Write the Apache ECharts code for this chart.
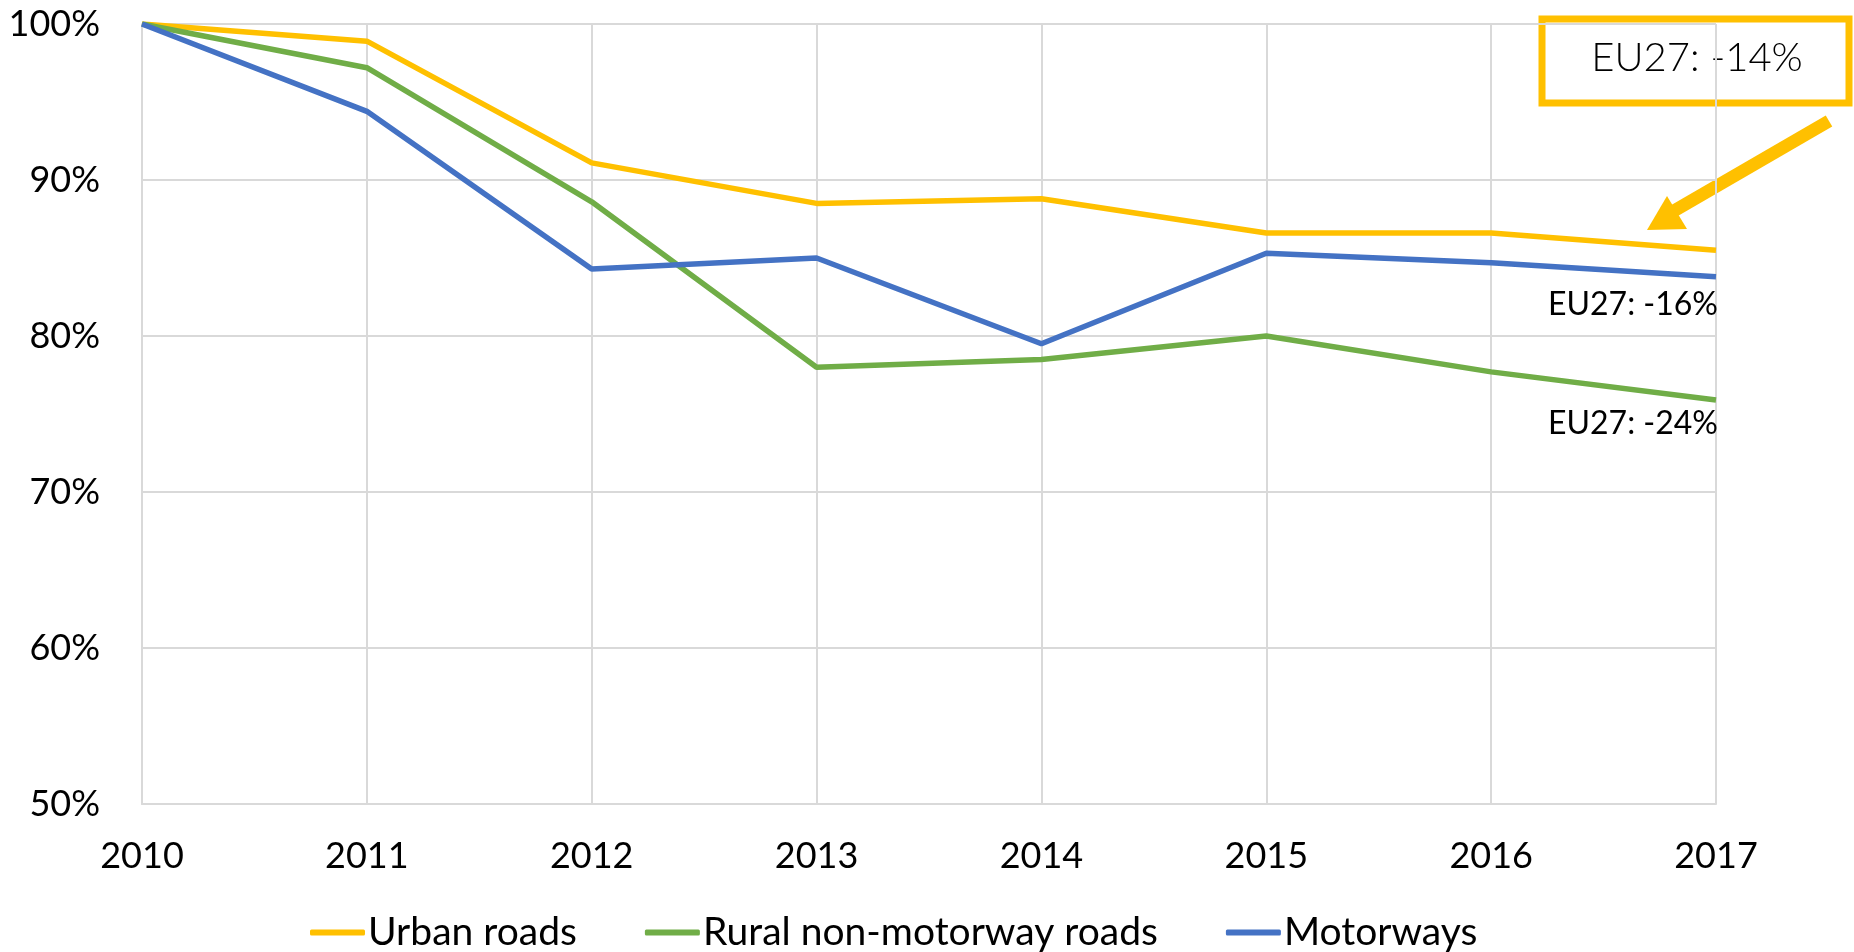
<!DOCTYPE html>
<html>
<head>
<meta charset="utf-8">
<script src="https://cdn.jsdelivr.net/npm/echarts@6/dist/echarts.min.js"></script>
<style>
  html, body { margin: 0; padding: 0; background: #fff; }
  #chart { width: 1854px; height: 952px; }
</style>
</head>
<body>
<div id="chart"></div>
<script>
const years = ['2010', '2011', '2012', '2013', '2014', '2015', '2016', '2017']
const urban = [100, 98.9, 91.1, 88.5, 88.8, 86.6, 86.6, 85.5]
const rural = [100, 97.2, 88.6, 78.0, 78.5, 80.0, 77.7, 75.9]
const motorways = [100, 94.4, 84.3, 85.0, 79.5, 85.3, 84.7, 83.8]

const FONT = 'Lato'
const chart = echarts.init(document.getElementById('chart'))

// end-of-line note under a series
const endNote = (value, text, dist) => ({
  symbol: 'circle',
  symbolSize: 0,
  silent: true,
  data: [{
    coord: [years[years.length - 1], value],
    label: {
      show: true,
      formatter: text,
      position: 'bottom',
      align: 'right',
      distance: dist,
      offset: [2, 0],
      color: '#000',
      fontFamily: FONT,
      fontSize: 32
    }
  }]
})

const option = {
  backgroundColor: '#fff',
  animation: false,
  textStyle: { fontFamily: FONT },
  grid: { left: 142, right: 138, top: 24, bottom: 148 },
  legend: {
    left: 305,
    top: 908,
    itemWidth: 55,
    itemHeight: 6,
    itemGap: 68,
    icon: 'roundRect',
    textStyle: { fontFamily: FONT, fontSize: 39, color: '#000', padding: [0, 0, 0, -2] },
    data: ['Urban roads', 'Rural non-motorway roads', 'Motorways']
  },
  xAxis: {
    type: 'category',
    data: years,
    boundaryGap: false,
    axisLine: { lineStyle: { color: '#d9d9d9', width: 2 } },
    axisTick: { show: false },
    splitLine: { show: true, lineStyle: { color: '#d9d9d9', width: 2 } },
    axisLabel: { color: '#000', fontFamily: FONT, fontSize: 36, margin: 34 }
  },
  yAxis: {
    type: 'value',
    min: 50,
    max: 100,
    interval: 10,
    axisLine: { show: true, lineStyle: { color: '#d9d9d9', width: 2 } },
    axisTick: { show: false },
    splitLine: { lineStyle: { color: '#d9d9d9', width: 2 } },
    axisLabel: { color: '#000', fontFamily: FONT, fontSize: 36, margin: 42, formatter: '{value}%' }
  },
  series: [
    {
      name: 'Urban roads', type: 'line', data: urban,
      showSymbol: false, color: '#FFC000', lineStyle: { width: 5.5 }
    },
    {
      name: 'Rural non-motorway roads', type: 'line', data: rural,
      showSymbol: false, color: '#70AD47', lineStyle: { width: 5.5 },
      markPoint: endNote(rural[rural.length - 1], 'EU27: -24%', 8)
    },
    {
      name: 'Motorways', type: 'line', data: motorways,
      showSymbol: false, color: '#4472C4', lineStyle: { width: 5.5 },
      markPoint: endNote(motorways[motorways.length - 1], 'EU27: -16%', 12)
    }
  ],
  // callout box and arrow for the urban roads figure
  graphic: [
    {
      type: 'rect',
      shape: { x: 1542, y: 19, width: 307, height: 84 },
      style: { fill: '#fff', stroke: '#FFC000', lineWidth: 7 }
    },
    {
      type: 'text',
      x: 1697, y: 58,
      style: {
        text: 'EU27: -14%', fill: '#000', font: '300 40px Lato',
        align: 'center', verticalAlign: 'middle'
      }
    },
    {
      type: 'line',
      shape: { x1: 1829, y1: 121, x2: 1672, y2: 212 },
      style: { stroke: '#FFC000', lineWidth: 13 }
    },
    {
      type: 'polygon',
      shape: { points: [[1647, 230], [1667, 196], [1687, 229]] },
      style: { fill: '#FFC000' }
    }
  ]
}

chart.setOption(option)
</script>
</body>
</html>
